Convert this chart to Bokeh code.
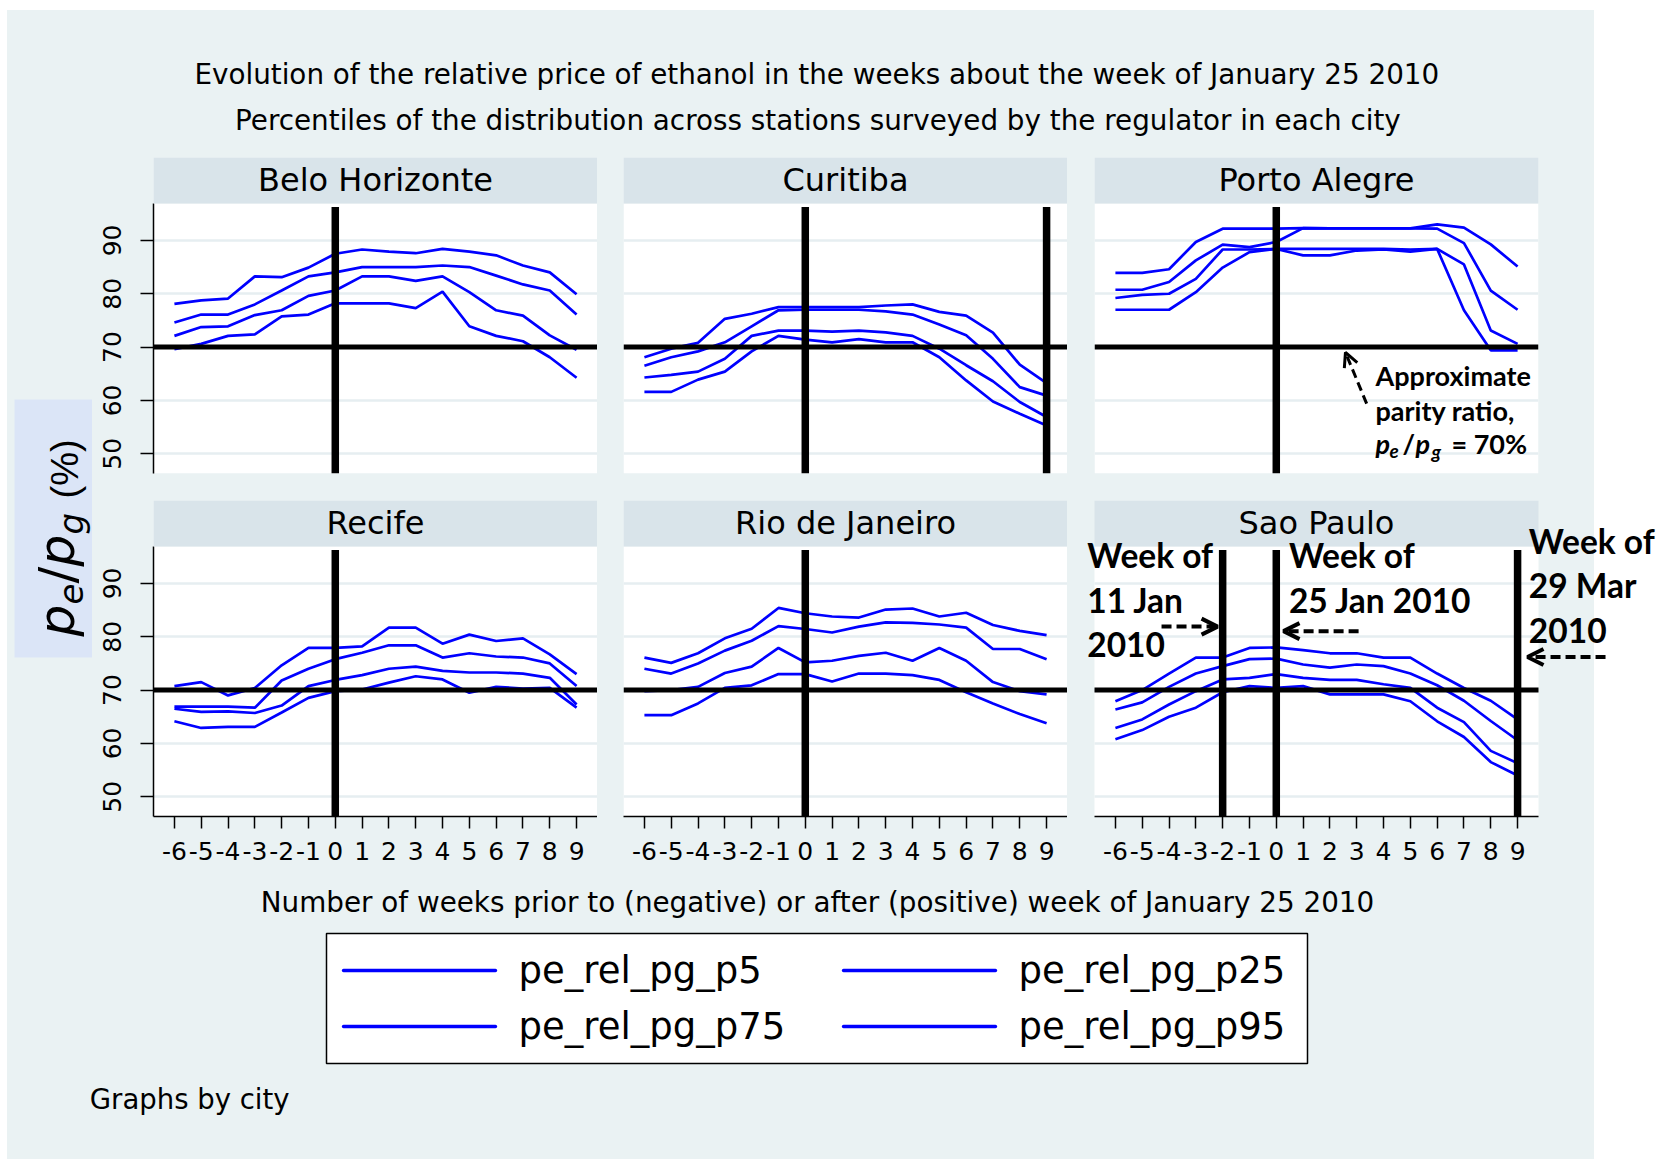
from math import pi

from bokeh.embed import file_html
from bokeh.layouts import column, row
from bokeh.models import (Arrow, BoxAnnotation, FixedTicker, Grid, Label,
                          LinearAxis, OpenHead, Range1d)
from bokeh.plotting import figure
from bokeh.resources import INLINE

# ---------------------------------------------------------------- data
weeks = list(range(-6, 10))
week_labels = {w: str(w) for w in weeks}
cities = ["Belo Horizonte", "Curitiba", "Porto Alegre",
          "Recife", "Rio de Janeiro", "Sao Paulo"]
series_names = ["pe_rel_pg_p5", "pe_rel_pg_p25", "pe_rel_pg_p75", "pe_rel_pg_p95"]
y_ticks = [50, 60, 70, 80, 90]
parity_ratio = 70

bh_p5 = [69.6, 70.6, 72.1, 72.4, 75.75, 76.1, 78.2, 78.2, 78.2, 77.3, 80.4, 73.9, 72.1, 71.1, 68.1, 64.25]
bh_p25 = [72.1, 73.75, 73.9, 76.0, 76.9, 79.6, 80.6, 83.25, 83.25, 82.4, 83.25, 80.3, 76.9, 75.9, 72.2, 69.5]
bh_p75 = [74.6, 76.1, 76.1, 78.0, 80.6, 83.25, 84.0, 85.0, 85.0, 85.0, 85.3, 85.0, 83.4, 81.75, 80.6, 76.1]
bh_p95 = [78.1, 78.75, 79.1, 83.25, 83.1, 84.9, 87.5, 88.3, 87.9, 87.6, 88.4, 87.9, 87.2, 85.3, 84.0, 79.9]

cu_p5 = [61.6, 61.6, 63.9, 65.4, 69.2, 72.1, 71.4, 70.9, 71.5, 70.9, 70.9, 68.1, 63.75, 59.8, 57.5, 55.3]
cu_p25 = [64.3, 64.8, 65.4, 67.8, 72.1, 73.1, 73.1, 72.9, 73.1, 72.75, 72.1, 69.7, 66.6, 63.6, 59.7, 56.9]
cu_p75 = [66.5, 68.1, 69.2, 70.9, 73.9, 76.9, 77.0, 77.0, 77.0, 76.7, 76.1, 74.25, 72.2, 67.8, 62.5, 60.9]
cu_p95 = [68.1, 69.7, 70.8, 75.3, 76.25, 77.5, 77.5, 77.5, 77.5, 77.8, 78.0, 76.6, 75.9, 72.7, 66.7, 63.25]

pa_p5 = [77.0, 77.0, 77.0, 80.3, 84.9, 87.8, 88.4, 87.2, 87.2, 88.1, 88.3, 87.9, 88.4, 76.9, 69.4, 69.4]
pa_p25 = [79.2, 79.8, 80.0, 82.8, 88.3, 88.3, 88.4, 88.4, 88.4, 88.4, 88.4, 88.3, 88.4, 85.5, 73.1, 70.6]
pa_p75 = [80.75, 80.75, 82.2, 86.25, 89.2, 88.75, 89.7, 92.3, 92.25, 92.25, 92.25, 92.25, 92.2, 89.5, 80.6, 77.0]
pa_p95 = [83.9, 83.9, 84.6, 89.7, 92.2, 92.2, 92.2, 92.3, 92.25, 92.25, 92.25, 92.25, 93.0, 92.4, 89.25, 85.1]

re_p5 = [64.15, 62.9, 63.1, 63.1, 65.8, 68.55, 69.8, 70.1, 71.4, 72.6, 72.0, 69.5, 70.6, 70.3, 70.4, 66.7]
re_p25 = [66.5, 65.9, 66.0, 65.7, 67.1, 70.75, 71.9, 72.8, 74.0, 74.4, 73.6, 73.3, 73.3, 73.1, 72.3, 67.3]
re_p75 = [66.9, 66.9, 66.9, 66.7, 71.8, 74.0, 75.8, 77.0, 78.4, 78.4, 76.1, 76.9, 76.3, 76.1, 75.0, 70.75]
re_p95 = [70.75, 71.5, 69.0, 70.4, 74.65, 77.9, 77.9, 78.2, 81.7, 81.7, 78.7, 80.4, 79.2, 79.7, 76.7, 73.0]

rj_p5 = [65.3, 65.3, 67.5, 70.4, 70.9, 73.0, 73.0, 71.6, 73.1, 73.1, 72.8, 71.9, 69.6, 67.5, 65.5, 63.8]
rj_p25 = [69.8, 70.0, 70.6, 73.2, 74.4, 77.9, 75.2, 75.5, 76.4, 77.0, 75.5, 77.9, 75.5, 71.5, 69.8, 69.2]
rj_p75 = [74.0, 73.1, 75.0, 77.4, 79.25, 82.0, 81.45, 80.8, 81.9, 82.7, 82.6, 82.3, 81.7, 77.7, 77.7, 75.8]
rj_p95 = [76.1, 75.1, 76.9, 79.7, 81.5, 85.4, 84.4, 83.8, 83.6, 85.1, 85.3, 83.8, 84.5, 82.2, 81.1, 80.3]

sp_p5 = [60.8, 62.5, 65.0, 66.7, 69.6, 70.75, 70.4, 70.75, 69.2, 69.2, 69.2, 67.9, 64.15, 61.2, 56.5, 54.0]
sp_p25 = [62.9, 64.5, 67.3, 69.8, 72.0, 72.3, 73.0, 72.3, 71.9, 71.9, 71.1, 70.4, 66.7, 64.0, 58.6, 56.3]
sp_p75 = [66.35, 67.7, 70.6, 73.1, 74.5, 75.8, 75.9, 74.8, 74.2, 74.8, 74.5, 73.1, 70.9, 68.0, 64.2, 60.6]
sp_p95 = [67.9, 70.0, 73.1, 76.1, 76.1, 77.9, 78.0, 77.5, 76.9, 76.9, 76.1, 76.1, 73.1, 70.4, 68.0, 64.5]

city_series = {
    "Belo Horizonte": [bh_p5, bh_p25, bh_p75, bh_p95],
    "Curitiba": [cu_p5, cu_p25, cu_p75, cu_p95],
    "Porto Alegre": [pa_p5, pa_p25, pa_p75, pa_p95],
    "Recife": [re_p5, re_p25, re_p75, re_p95],
    "Rio de Janeiro": [rj_p5, rj_p25, rj_p75, rj_p95],
    "Sao Paulo": [sp_p5, sp_p25, sp_p75, sp_p95],
}
# weeks marked with a vertical rule in each city
marked_weeks = {
    "Belo Horizonte": [0], "Curitiba": [0, 9], "Porto Alegre": [0],
    "Recife": [0], "Rio de Janeiro": [0], "Sao Paulo": [-2, 0, 9],
}

# ---------------------------------------------------------------- style
PAGE_W, PAGE_H = 1658, 1159
BG = "#EAF2F3"
STRIP = "#D9E4EA"
GRID = "#E6EEF1"
YBOX = "#DBE5F7"
BLUE = "#0000FF"
FONT = "DejaVu Sans"
NOTE_FONT = "Lato"

X0, X1 = -6.78, 9.78
Y0, Y1 = 46.3, 96.92
FRAME_W, PLOT_H, STRIP_H = 444, 270, 46
PPX = FRAME_W / (X1 - X0)
PPU = PLOT_H / (Y1 - Y0)
YTOP = Y1 + STRIP_H / PPU
RULE_TOP = Y1 - 3.5 / PPU
HAS_CROSS_BOUNDS = "cross_bounds" in Grid.properties()
SIDE_W = 92          # width of the column holding the y title
AXIS_BORDER = 61     # room for the y axis of the first column of panels


def blank(w, h, x0, y0):
    """Transparent drawing surface addressed in page pixels."""
    return figure(frame_width=w, frame_height=h, x_range=Range1d(x0, x0 + w),
                  y_range=Range1d(y0 + h, y0), x_axis_type=None, y_axis_type=None,
                  toolbar_location=None, output_backend="svg", min_border=0,
                  background_fill_color=None, border_fill_color=None,
                  outline_line_color=None)


def label(fig, x, y, text, size, align="left", baseline="middle",
          font=FONT, style="normal", angle=0.0, x_offset=0, y_offset=0):
    fig.add_layout(Label(x=x, y=y, text=text, text_align=align,
                         text_baseline=baseline, text_font=font,
                         text_font_size=f"{size}px", text_font_style=style,
                         text_color="black", angle=angle,
                         x_offset=x_offset, y_offset=y_offset))


def panel(city, left, right, bottom, yaxis, xaxis, pad_left=0, pad_right=0):
    # pad_left / pad_right widen the drawing area beyond the plot region so that
    # notes can sit in the margins next to it
    p = figure(frame_width=FRAME_W + pad_left + pad_right,
               frame_height=PLOT_H + STRIP_H,
               x_range=Range1d(X0 - pad_left / PPX, X1 + pad_right / PPX),
               y_range=Range1d(Y0, YTOP),
               x_axis_type=None, y_axis_type=None, toolbar_location=None,
               output_backend="svg", min_border_left=left, min_border_right=right,
               min_border_top=0, min_border_bottom=bottom,
               background_fill_color=None, border_fill_color=None,
               outline_line_color=None)
    p.add_layout(BoxAnnotation(left=X0, right=X1, top=Y1, fill_color="white",
                               fill_alpha=1, line_color=None, level="underlay"))
    if HAS_CROSS_BOUNDS:
        p.add_layout(Grid(dimension=1, ticker=FixedTicker(ticks=y_ticks),
                          cross_bounds=(X0, X1), grid_line_color=GRID,
                          grid_line_width=2.5))
    else:
        p.segment(x0=[X0] * len(y_ticks), y0=y_ticks, x1=[X1] * len(y_ticks),
                  y1=y_ticks, line_color=GRID, line_width=2.5, level="underlay")
    if yaxis:
        ax = LinearAxis(ticker=FixedTicker(ticks=y_ticks), bounds=(Y0, Y1),
                        major_label_orientation="vertical",
                        major_tick_out=13, major_tick_in=0,
                        minor_tick_line_color=None, major_label_standoff=19,
                        axis_line_color="black", axis_line_width=1.5,
                        major_tick_line_width=1.5,
                        major_label_text_font=FONT,
                        major_label_text_font_size="25px",
                        major_label_text_color="black")
        p.add_layout(ax, "left")
    if xaxis:
        ax = LinearAxis(ticker=FixedTicker(ticks=weeks), bounds=(X0, X1),
                        major_label_overrides=week_labels,
                        major_tick_out=12, major_tick_in=0,
                        minor_tick_line_color=None, major_label_standoff=13,
                        axis_line_color="black", axis_line_width=1.5,
                        major_tick_line_width=1.5,
                        major_label_text_font=FONT,
                        major_label_text_font_size="25px",
                        major_label_text_color="black")
        p.add_layout(ax, "below")

    for vals in city_series[city]:
        p.line(weeks, vals, line_color=BLUE, line_width=2.7)

    p.segment(x0=[X0], y0=[parity_ratio], x1=[X1], y1=[parity_ratio],
              line_color="black", line_width=5)
    mw = marked_weeks[city]
    p.segment(x0=mw, y0=[Y0] * len(mw), x1=mw, y1=[RULE_TOP] * len(mw),
              line_color="black", line_width=7.5)

    # strip with the city name
    p.add_layout(BoxAnnotation(left=X0, right=X1, bottom=Y1, fill_color=STRIP,
                               fill_alpha=1, line_color=None))
    label(p, (X0 + X1) / 2, YTOP - 22 / PPU, city, 32, align="center")
    return p


p_bh = panel("Belo Horizonte", AXIS_BORDER, 0, 27, True, False)
p_cu = panel("Curitiba", 26, 0, 27, False, False)
p_pa = panel("Porto Alegre", 27, 120, 27, False, False)
p_re = panel("Recife", AXIS_BORDER, 0, 55, True, True)
p_rj = panel("Rio de Janeiro", 26, 0, 55, False, True)
p_sp = panel("Sao Paulo", 0, 0, 55, False, True, pad_left=27, pad_right=120)

# parity-ratio note (Porto Alegre)
NB = 27
bold, bold_it = "bold", "bold italic"
label(p_pa, 3.70, 64.62, "Approximate", NB, font=NOTE_FONT, style=bold)
label(p_pa, 3.70, 58.19, "parity ratio,", NB, font=NOTE_FONT, style=bold)
label(p_pa, 3.70, 51.96, "p", NB, font=NOTE_FONT, style=bold_it)
label(p_pa, 3.70, 51.96, "e", 19, font=NOTE_FONT, style=bold_it,
      x_offset=14, y_offset=-8)
label(p_pa, 3.70, 51.96, "/", NB, font=NOTE_FONT, style=bold, x_offset=27)
label(p_pa, 3.70, 51.96, "p", NB, font=NOTE_FONT, style=bold_it, x_offset=40)
label(p_pa, 3.70, 51.96, "g", 19, font=NOTE_FONT, style=bold_it,
      x_offset=56, y_offset=-8)
label(p_pa, 3.70, 51.96, "= 70%", NB, font=NOTE_FONT, style=bold, x_offset=76)
p_pa.add_layout(Arrow(x_start=3.37, y_start=59.4, x_end=2.58, y_end=69.0,
                      line_width=3, line_dash="9 5", line_color="black",
                      end=OpenHead(size=14, line_width=3, line_color="black")))

# week notes (Sao Paulo)
NS = 33.5
label(p_sp, -7.05, 95.33, "Week of", NS, font=NOTE_FONT, style=bold)
label(p_sp, -7.05, 86.8, "11 Jan", NS, font=NOTE_FONT, style=bold)
label(p_sp, -7.05, 78.46, "2010", NS, font=NOTE_FONT, style=bold)
label(p_sp, 0.47, 95.33, "Week of", NS, font=NOTE_FONT, style=bold)
label(p_sp, 0.47, 86.8, "25 Jan 2010", NS, font=NOTE_FONT, style=bold)
label(p_sp, 9.42, 97.86, "Week of", NS, font=NOTE_FONT, style=bold)
label(p_sp, 9.42, 89.61, "29 Mar", NS, font=NOTE_FONT, style=bold)
label(p_sp, 9.42, 81.18, "2010", NS, font=NOTE_FONT, style=bold)
for xs, xe, yy in [(-4.28, -2.19, 81.9), (3.07, 0.27, 81.05), (12.28, 9.37, 76.2)]:
    p_sp.add_layout(Arrow(x_start=xs, y_start=yy, x_end=xe, y_end=yy,
                          line_width=4, line_dash="10 5", line_color="black",
                          end=OpenHead(size=16, line_width=4, line_color="black")))

# ---------------------------------------------------------------- titles
top = blank(PAGE_W, 157, 0, 0)
label(top, 816.3, 74,
      "Evolution of the relative price of ethanol in the weeks about the week of January 25 2010",
      27.8, align="center")
label(top, 817.4, 119.5,
      "Percentiles of the distribution across stations surveyed by the regulator in each city",
      27.8, align="center")

# rotated y title: p_e / p_g (%)
side = blank(SIDE_W, 714, 0, 157)
side.quad(left=[14], right=[SIDE_W], top=[399], bottom=[657], fill_color=YBOX,
          line_color=None)
label(side, 56.7, 636, "p", 50, style="italic", angle=pi / 2)
label(side, 70, 604, "e", 34, style="italic", angle=pi / 2)
label(side, 56.7, 583, "/", 50, angle=pi / 2)
label(side, 56.7, 566, "p", 50, style="italic", angle=pi / 2)
label(side, 70, 534, "g", 34, style="italic", angle=pi / 2)
label(side, 64, 498, "(%)", 38, font="Liberation Sans", angle=pi / 2)

foot = blank(PAGE_W, PAGE_H - 871, 0, 871)
label(foot, 817, 902,
      "Number of weeks prior to (negative) or after (positive) week of January 25 2010",
      27.8, align="center")
label(foot, 89.3, 1098.7, "Graphs by city", 27.5)

# legend: box, keys and labels in reading order p5, p25 / p75, p95
foot.quad(left=[326], right=[1307], top=[933], bottom=[1063], fill_color="white",
          line_color="black", line_width=1.5)
key_x = [343, 843, 343, 843]
key_y = [970, 970, 1026, 1026]
foot.segment(x0=key_x, y0=key_y, x1=[x + 152 for x in key_x], y1=key_y,
             line_color=BLUE, line_width=3.3, line_cap="round")
for name, kx, ky in zip(series_names, key_x, key_y):
    label(foot, kx + 175, ky, name, 37)

grid_panels = column(row(p_bh, p_cu, p_pa, spacing=0),
                     row(p_re, p_rj, p_sp, spacing=0), spacing=0)
page = column(top, row(side, grid_panels, spacing=0), foot, spacing=0,
              styles={"background-color": "#FFFFFF",
                      "background-image": f"linear-gradient({BG}, {BG})",
                      "background-position": "7px 10px",
                      "background-size": "1587px 1149px",
                      "background-repeat": "no-repeat"})

open("out.html", "w").write(file_html(page, INLINE))
